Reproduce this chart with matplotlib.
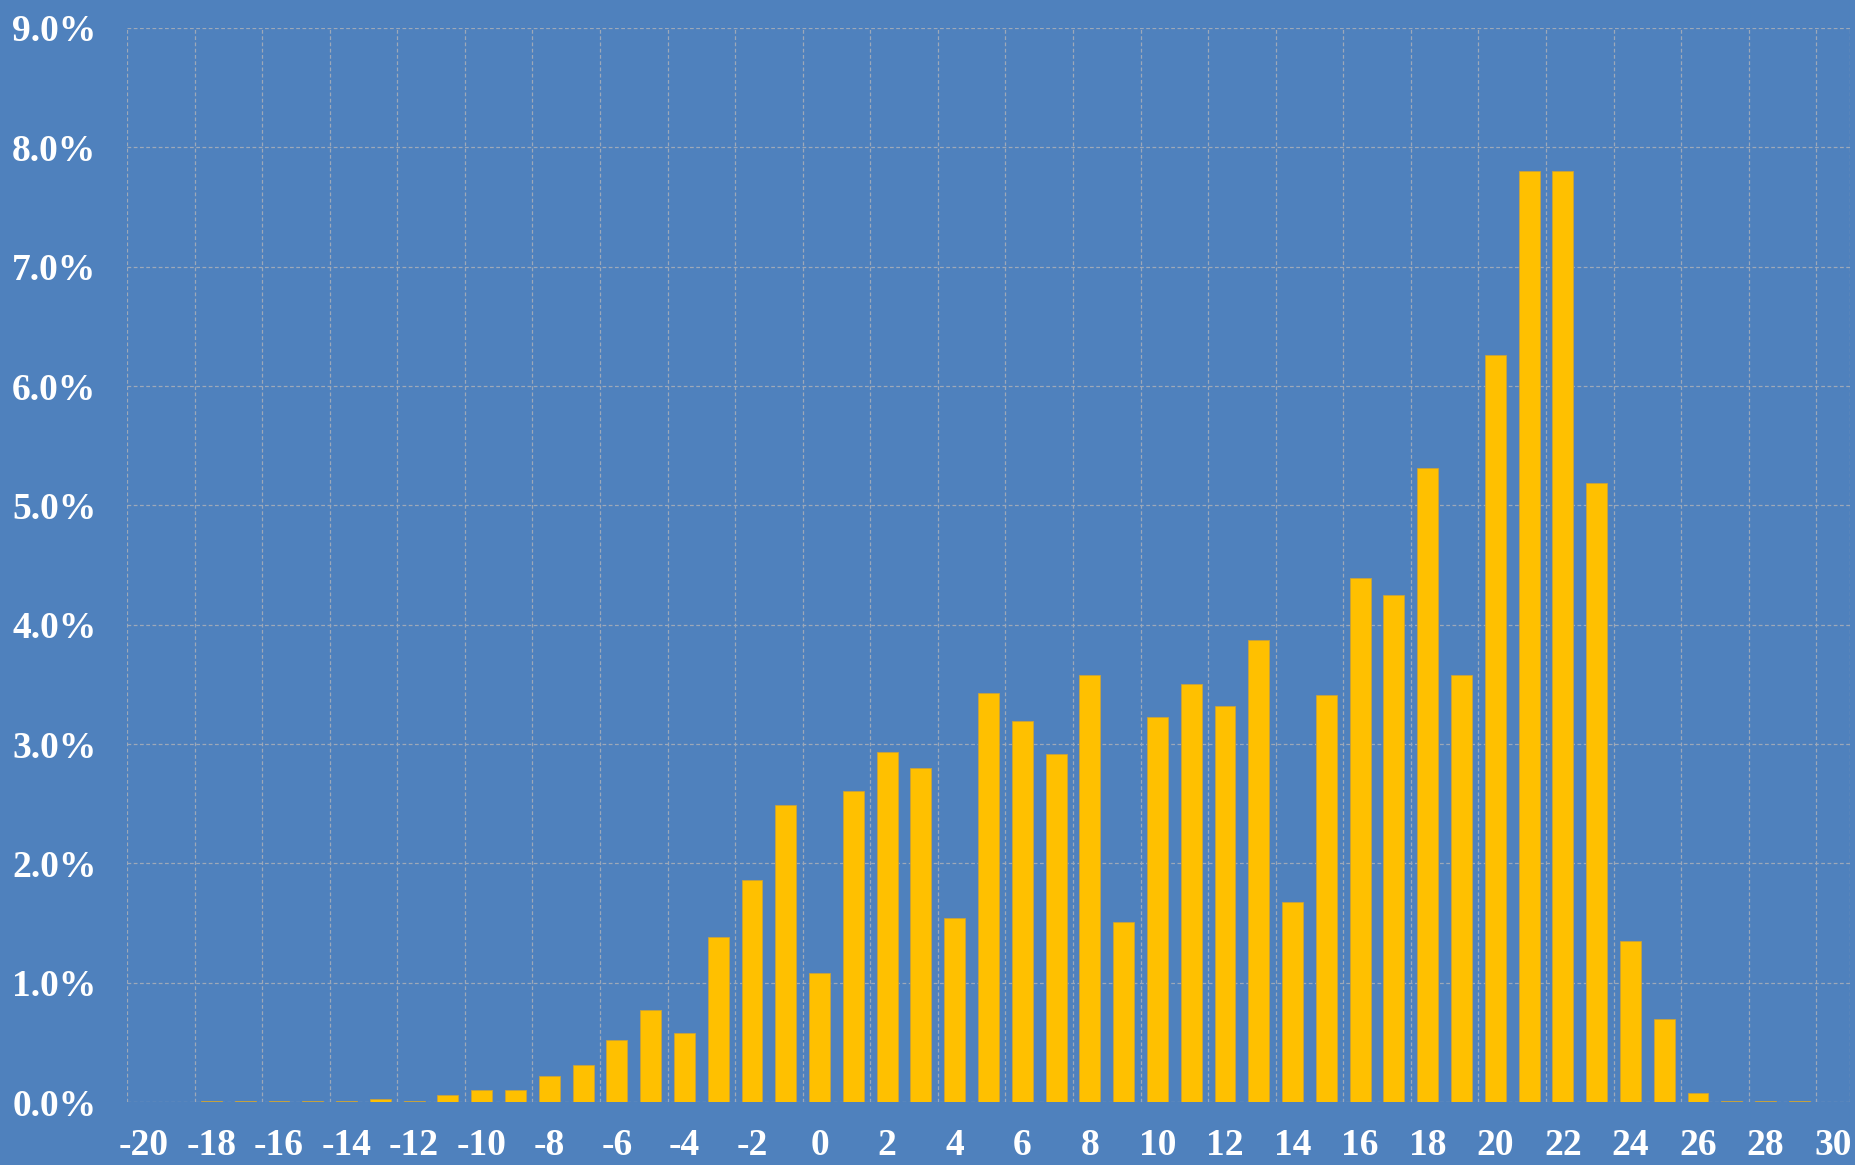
import matplotlib.pyplot as plt
import numpy as np

# categories (integer bins) and share of observations in each bin, %
categories = list(range(-20, 31))
share_pct = [
    0.00, 0.00, 0.01, 0.01, 0.01, 0.01, 0.01, 0.03, 0.01, 0.06,   # -20 .. -11
    0.10, 0.10, 0.22, 0.31, 0.52, 0.77, 0.58, 1.38, 1.86, 2.49,   # -10 .. -1
    1.08, 2.61, 2.93, 2.80, 1.54, 3.43, 3.19, 2.92, 3.58, 1.51,   # 0 .. 9
    3.23, 3.50, 3.32, 3.87, 1.68, 3.41, 4.39, 4.25, 5.31, 3.58,   # 10 .. 19
    6.26, 7.80, 7.80, 5.19, 1.35, 0.70, 0.08, 0.01, 0.01, 0.01,   # 20 .. 29
    0.00,                                                         # 30
]
tick_labels = [str(v) for v in range(-20, 31, 2)]
y_ticks = np.arange(0, 9.1, 1.0)

bg = '#4F81BD'
bar_color = '#FFC000'
grid_color = '#9DA8B8'
font = ['Liberation Serif', 'DejaVu Serif']

fig = plt.figure(figsize=(18.56, 11.65), dpi=100, facecolor=bg)
ax = fig.add_axes([0.0684, 0.054, 0.9284, 0.922])
ax.set_facecolor(bg)

x = np.array(categories)
y = np.array(share_pct) / 100.0
ax.bar(x, y, width=0.62, color=bar_color, edgecolor='#C8A23C', linewidth=0.6, zorder=3)

ax.set_xlim(-20.5, 30.5)
ax.set_ylim(0, 0.09)

# horizontal grid every 1%
ax.set_yticks(y_ticks / 100.0)
ax.set_yticklabels(['%.1f%%' % v for v in y_ticks])
for v in y_ticks:
    ax.axhline(v / 100.0, color=grid_color, lw=0.9, ls=(0, (3, 2)), zorder=1)

# vertical grid on the category boundaries, every 2 categories
for b in np.arange(-20.5, 31, 2):
    ax.axvline(b, color=grid_color, lw=0.9, ls=(0, (3, 2)), zorder=1)
ax.axvline(30.5, color=grid_color, lw=0.9, ls=(0, (3, 2)), zorder=1)

ax.set_xticks(range(-20, 31, 2))
ax.set_xticklabels(tick_labels)

for s in ax.spines.values():
    s.set_visible(False)
ax.tick_params(length=0, colors='white')
ax.tick_params(axis='x', pad=19)
ax.tick_params(axis='y', pad=22)
for lab in ax.get_xticklabels() + ax.get_yticklabels():
    lab.set_family(font)
    lab.set_fontsize(27)
    lab.set_fontweight('bold')
    lab.set_color('white')

fig.savefig('out.png', dpi=100, facecolor=bg)
